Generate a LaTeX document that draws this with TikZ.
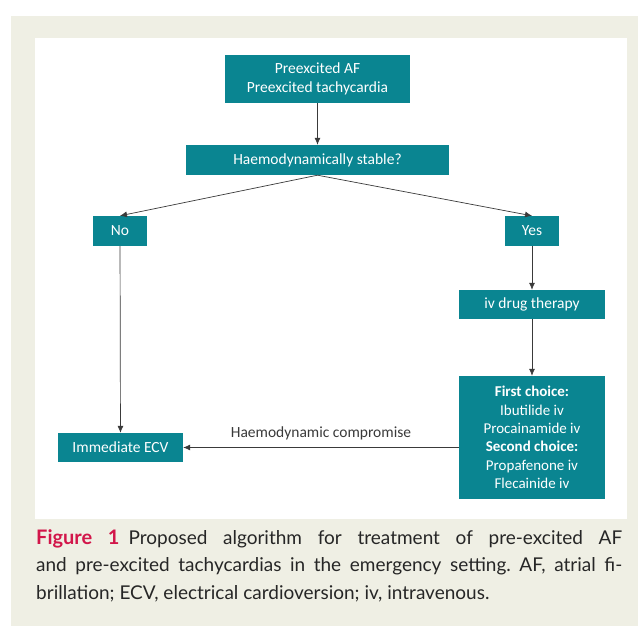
\documentclass[tikz,border=0pt]{standalone}
\usepackage{fontspec}
\setmainfont{Carlito}
\newfontfamily\capfont{Lato}
\usetikzlibrary{shapes, arrows.meta, positioning, calc}
\definecolor{teal1}{HTML}{0A8591}
\definecolor{paper}{HTML}{EFEFE4}
\definecolor{figred}{HTML}{D2164A}
\definecolor{linegray}{HTML}{3A3A3A}

\begin{document}
\begin{tikzpicture}[x=1pt, y=-1pt]
% Define styles
\tikzstyle{box} = [rectangle, fill=teal1, text=white, inner sep=0pt, align=center, font=\fontsize{15.5}{18.5}\selectfont]
\tikzstyle{arrow} = [line width=0.7pt, draw=linegray, -{Latex[length=7pt, width=6pt]}]

% Page
\useasboundingbox (0,0) rectangle (638,626);
\fill[paper] (11,16) rectangle (638,626);
\fill[white] (35,38) rectangle (627,519);

% Start
\node (start) [box, minimum width=185pt, minimum height=48pt] at (317.5,79) {Preexcited AF\\Preexcited tachycardia};
\node (stable) [box, minimum width=263pt, minimum height=30pt] at (317.5,160) {Haemodynamically stable?};
\draw [arrow] (start) -- (stable);

% Branches
\node (no) [box, minimum width=54pt, minimum height=30pt] at (120,231) {No};
\node (yes) [box, minimum width=54pt, minimum height=30pt] at (532,231) {Yes};
\draw [arrow] (stable.south) -- (no.north);
\draw [arrow] (stable.south) -- (yes.north);

% Drug therapy
\node (drug) [box, minimum width=146pt, minimum height=29pt] at (532,304.5) {iv drug therapy};
\draw [arrow] (yes) -- (drug);
\node (choice) [box, minimum width=146pt, minimum height=123pt, font=\fontsize{15}{18.3}\selectfont] at (532,437.5)
  {\textbf{First choice:}\\Ibutilide iv\\Procainamide iv\\\textbf{Second choice:}\\Propafenone iv\\Flecainide iv};
\draw [arrow] (drug) -- (choice);

% Cardioversion
\node (ecv) [box, minimum width=125pt, minimum height=29pt] at (120.5,447.5) {Immediate ECV};
\draw [arrow] (no) -- (ecv);
\draw [arrow] (choice.west |- ecv.east) -- node [above=4pt, text=linegray, font=\fontsize{15.5}{18}\selectfont] (compromise) {Haemodynamic compromise} (ecv.east);

% Caption
\node (caption) [anchor=north west, inner sep=0pt, text width=586pt, align=justify, font=\capfont\fontsize{19}{27.5}\selectfont, text=black!85] at (36,529)
  {\frenchspacing{\color{figred}\bfseries\fontsize{20}{27.5}\selectfont Figure 1}\hspace{9pt}Proposed algorithm for treatment of pre-excited AF\linebreak
   and pre-excited tachycardias in the emergency setting. AF, atrial fi-\linebreak
   brillation; ECV, electrical cardioversion; iv, intravenous.};
\end{tikzpicture}
\end{document}
